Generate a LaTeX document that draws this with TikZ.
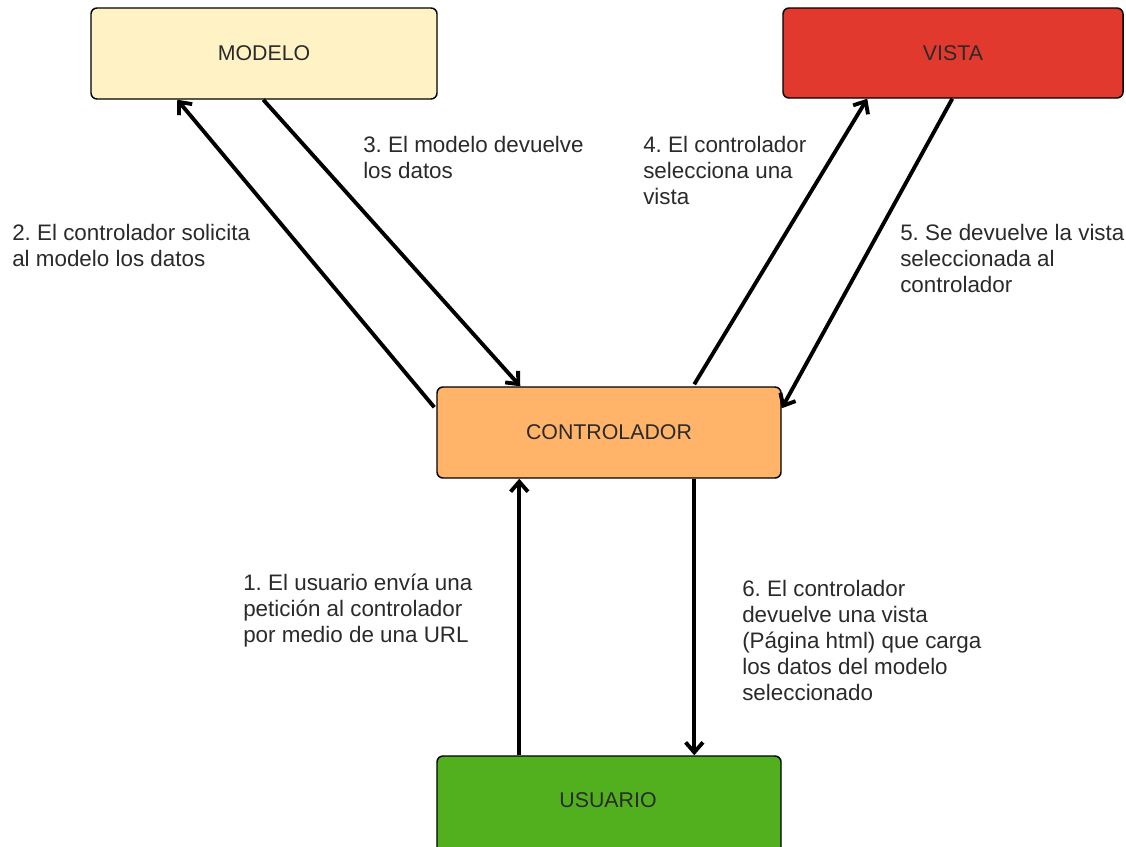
\documentclass[tikz,border=0pt]{standalone}
\usepackage{fontspec}
\setmainfont{Liberation Sans}
\frenchspacing
\usetikzlibrary{arrows.meta,calc}
\definecolor{cmodelo}{HTML}{FFF3C6}
\definecolor{cvista}{HTML}{E2392F}
\definecolor{ccontrol}{HTML}{FFB46A}
\definecolor{cusuario}{HTML}{52B01E}
\definecolor{ctext}{HTML}{2A2A2A}
\begin{document}
\begin{tikzpicture}[x=0.75pt,y=-0.75pt,
  box/.style={draw=black,line width=1.1pt,rounded corners=4.5pt,inner sep=0pt,
    font=\fontsize{16pt}{19.5pt}\selectfont,text=ctext},
  lbl/.style={anchor=north west,inner sep=0pt,align=left,
    font=\fontsize{16.8pt}{19.5pt}\selectfont,text=ctext},
  conn/.style={line width=2.9pt,-{Straight Barb[length=7.5pt,width=13pt]}}]
\useasboundingbox (0,0) rectangle (1126,846);
% boxes
\node[box,fill=cmodelo,minimum width=346*0.75pt,minimum height=91*0.75pt] (modelo) at (264,53.5) {MODELO};
\node[box,fill=cvista,minimum width=340*0.75pt,minimum height=90*0.75pt] (vista) at (953,53) {VISTA};
\node[box,fill=ccontrol,minimum width=344*0.75pt,minimum height=91*0.75pt] (controlador) at (609,432.5) {CONTROLADOR};
\node[box,fill=cusuario,minimum width=344*0.75pt,minimum height=100*0.75pt] (usuario) at (609,806) {};
\node[font=\fontsize{16pt}{19.5pt}\selectfont,text=ctext] (usuariotxt) at (608,800) {USUARIO};
% connectors
\coordinate (c1a) at ($(usuario.north west)+(83,0)$);
\coordinate (c1b) at ($(controlador.south west)+(83,0)$);
\draw[conn] (c1a) -- (c1b);
\coordinate (c6a) at ($(controlador.south west)+(258,0)$);
\coordinate (c6b) at ($(usuario.north west)+(258,0)$);
\draw[conn] (c6a) -- (c6b);
\coordinate (c2a) at ($(controlador.north west)+(-2,21)$);
\coordinate (c2b) at ($(modelo.south west)+(87,0)$);
\draw[conn] (c2a) -- (c2b);
\coordinate (c3a) at ($(modelo.south west)+(173,0)$);
\coordinate (c3b) at ($(controlador.north west)+(84,0)$);
\draw[conn] (c3a) -- (c3b);
\coordinate (c4a) at ($(controlador.north west)+(258,-2)$);
\coordinate (c4b) at ($(vista.south west)+(85,0)$);
\draw[conn] (c4a) -- (c4b);
\coordinate (c5a) at ($(vista.south west)+(170,0)$);
\coordinate (c5b) at ($(controlador.north east)+(0,22)$);
\draw[conn] (c5a) -- (c5b);
% labels
\node[lbl] (l2) at (12,224) {2. El controlador solicita\\al modelo los datos};
\node[lbl] (l3) at (363,136) {3. El modelo devuelve\\los datos};
\node[lbl] (l4) at (643,136) {4. El controlador\\selecciona una\\vista};
\node[lbl] (l5) at (900,224) {5. Se devuelve la vista\\seleccionada al\\controlador};
\node[lbl] (l1) at (243,574) {1. El usuario envía una\\petición al controlador\\por medio de una URL};
\node[lbl] (l6) at (742,580) {6. El controlador\\devuelve una vista\\(Página html) que carga\\los datos del modelo\\seleccionado};
\end{tikzpicture}
\end{document}
